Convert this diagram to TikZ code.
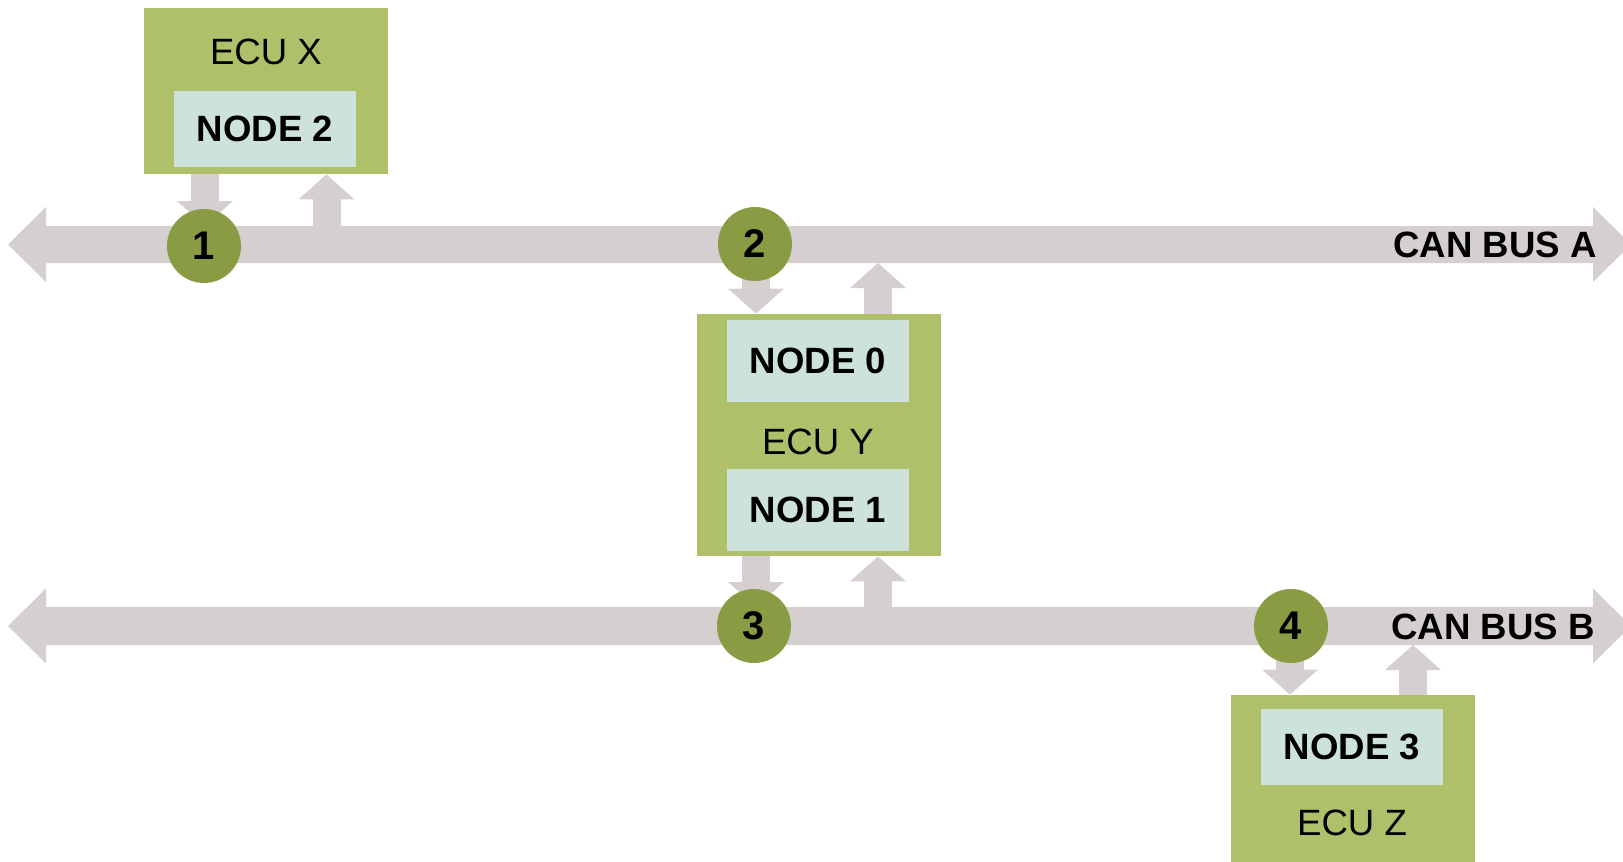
\documentclass[tikz,border=0pt]{standalone}
\usepackage{fontspec}
\setmainfont{Liberation Sans}
\usetikzlibrary{arrows.meta}

\definecolor{ecugreen}{RGB}{174,192,106}
\definecolor{nodemint}{RGB}{206,226,220}
\definecolor{busgrey}{RGB}{213,207,207}
\definecolor{dotgreen}{RGB}{137,156,68}

\newcommand{\diagsize}{\fontsize{18.3}{22}\selectfont}

\tikzset{
	ecu/.style={fill=ecugreen, minimum width=122pt, inner sep=0pt},
	canode/.style={fill=nodemint, minimum width=91pt, inner sep=0pt, font=\diagsize\bfseries},
	point/.style={circle, fill=dotgreen, minimum size=37pt, inner sep=0pt, font=\fontsize{20}{24}\selectfont\bfseries},
	link/.style={busgrey, line width=14pt, -{Triangle[width=28pt,length=12.5pt,line width=0pt]}},
	buslabel/.style={anchor=east, inner sep=0pt, font=\diagsize\bfseries}
}

\begin{document}
\begin{tikzpicture}[x=0.5pt, y=-0.5pt, font=\diagsize]
			\useasboundingbox (0,0) rectangle (1623,862);

			% Buses
			\fill[busgrey] (8,244.5) -- (46,207) -- (46,226) -- (1593,226) -- (1593,207) -- (1631,244.5) -- (1593,282) -- (1593,263) -- (46,263) -- (46,282) -- cycle;
			\fill[busgrey] (8,626) -- (46,588.5) -- (46,607) -- (1593,607) -- (1593,588.5) -- (1631,626) -- (1593,663.5) -- (1593,645) -- (46,645) -- (46,663.5) -- cycle;
			\coordinate (busAtop) at (0,226);
			\coordinate (busAbot) at (0,263);
			\coordinate (busBtop) at (0,607);
			\coordinate (busBbot) at (0,645);

			% Bus labels
			\node[buslabel] (labelA) at (1597,245) {CAN BUS A};
			\node[buslabel] (labelB) at (1595,627) {CAN BUS B};

			% ECU X
			\node[ecu, minimum height=83pt] (ecux) at (266,91) {};
			\node (ecuxlabel) at (266,52) {ECU X};
			\node[canode, minimum height=38pt] (node2) at (265,129) {NODE 2};

			% ECU Y
			\node[ecu, minimum height=121pt] (ecuy) at (819,435) {};
			\node[canode, minimum height=41pt] (node0) at (818,361) {NODE 0};
			\node (ecuylabel) at (818,442) {ECU Y};
			\node[canode, minimum height=41pt] (node1) at (818,510) {NODE 1};

			% ECU Z
			\node[ecu, minimum height=100pt] (ecuz) at (1353,795) {};
			\node[canode, minimum height=38pt] (node3) at (1352,747) {NODE 3};
			\node (ecuzlabel) at (1352,823) {ECU Z};

			% Links
			\coordinate (xdown) at ([xshift=-30.5pt]ecux.south);
			\coordinate (xup) at ([xshift=30.25pt]ecux.south);
			\draw[link] (xdown) -- (xdown |- busAtop);
			\draw[link] (xup |- busAtop) -- (xup);

			\coordinate (ydown) at ([xshift=-31.5pt]ecuy.north);
			\coordinate (yup) at ([xshift=29.5pt]ecuy.north);
			\draw[link] (ydown |- busAbot) -- (ydown);
			\draw[link] (yup) -- (yup |- busAbot);

			\coordinate (ydownb) at ([xshift=-31.5pt]ecuy.south);
			\coordinate (yupb) at ([xshift=29.5pt]ecuy.south);
			\draw[link] (ydownb) -- (ydownb |- busBtop);
			\draw[link] (yupb |- busBtop) -- (yupb);

			\coordinate (zdown) at ([xshift=-31.5pt]ecuz.north);
			\coordinate (zup) at ([xshift=30pt]ecuz.north);
			\draw[link] (zdown |- busBbot) -- (zdown);
			\draw[link] (zup) -- (zup |- busBbot);

			% Points
			\node[point] (p1) at (204,246) {1};
			\node[point] (p2) at (755,244) {2};
			\node[point] (p3) at (754,626) {3};
			\node[point] (p4) at (1291,626) {4};
		\end{tikzpicture}
\end{document}
